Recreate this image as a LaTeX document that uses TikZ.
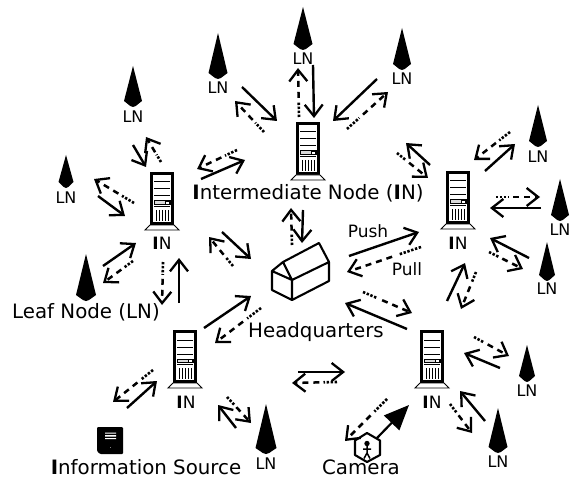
\documentclass[tikz,border=0pt]{standalone}
\usepackage{fontspec}
\setmainfont{DejaVu Sans}
\usetikzlibrary{arrows.meta,calc}
\newcommand{\fs}[1]{\fontsize{#1}{#1}\selectfont}
\newcommand{\barI}{\textbf{I}}
\tikzset{
  x=1pt,y=-1pt,
  opentip/.style={-{Straight Barb[length=11.5pt,width=18pt,line width=2.3pt]}},
  pushline/.style={line width=2.4pt,opentip},
  dotpart/.style={line width=2.6pt,dash pattern=on 2.4pt off 1.6pt},
  dashpart/.style={line width=2.5pt,dash pattern=on 6pt off 5pt,opentip},
  lab/.style={inner sep=0pt,font=\fs{19.8}},
  inlab/.style={inner sep=0pt,font=\fs{17}},
  lnlab/.style={inner sep=0pt,font=\fs{16}},
  server/.pic={
    \fill[black!55] (0,0) rectangle (24,53);
    \draw[line width=1.6pt,fill=white] (1,1) rectangle (23,52);
    \fill[black] (1,1) rectangle (23,3);
    \fill[black] (1,50) rectangle (23,52);
    \fill[black] (1,1) rectangle (3.4,52);
    \fill[black] (20.6,1) rectangle (23,52);
    \draw[line width=1pt] (4,10) -- (20,10) (4,17) -- (20,17) (4,24) -- (20,24);
    \draw[line width=1pt,fill=black!15] (4,29) rectangle (20,32.5);
    \fill (15,29) rectangle (20,33);
    \fill[white] (16,30) rectangle (18.5,31.8);
    \draw[line width=1pt] (4,34.5) -- (20,34.5);
    \draw[line width=.9pt] (6,38) -- (6,49) (9,38) -- (9,49) (12,38) -- (12,49) (15,38) -- (15,49) (18,38) -- (18,49);
    \draw[line width=.9pt,fill=white] (0,53) -- (24,53) -- (29,58) -- (-5,58) -- cycle;
  }
}
\newcommand{\tree}[6]{% name, tip x, tip y, half width, base y, unused
  \fill (#2,#3) -- (#2-#4,#5-6) -- (#2-0.3*#4,#5-1) -- (#2,#5) -- (#2+0.3*#4,#5-1) -- (#2+#4,#5-6) -- cycle;
  \coordinate (#1) at (#2,#5);
}
\newcommand{\solidarrow}[3]{%
  \coordinate (#1a) at (#2); \coordinate (#1b) at (#3);
  \draw[pushline] (#1a) -- (#1b);
}
\newcommand{\pullarrow}[3]{%
  \coordinate (#1a) at (#2); \coordinate (#1b) at (#3);
  \draw[dotpart] (#1a) -- ($(#1a)!.3!(#1b)$);
  \draw[dashpart] ($(#1a)!.39!(#1b)$) -- (#1b);
}
\begin{document}
\begin{tikzpicture}
\useasboundingbox (0,0) rectangle (570,481);
\fill[white] (0,0) rectangle (570,481);

% servers
\pic (s1) at (296,122) {server};
\pic (s2) at (150,172) {server};
\pic (s3) at (446,171) {server};
\pic (s4) at (173,330) {server};
\pic (s5) at (420,330) {server};

% leaf nodes
\tree{t1}{303}{7}{9.5}{50}{}
\tree{t2}{218}{33}{9.5}{79}{}
\tree{t3}{402}{28}{9}{70}{}
\tree{t4}{133}{66}{9}{107}{}
\tree{t5}{66}{155}{7.5}{188}{}
\tree{t6}{86}{254}{10}{301}{}
\tree{t7}{538}{105}{9}{147}{}
\tree{t8}{560}{179}{9}{221}{}
\tree{t9}{547}{242}{8}{281}{}
\tree{t10}{527}{345}{8}{382}{}
\tree{t11}{498}{408}{9.5}{453}{}
\tree{t12}{266}{404}{10.5}{454}{}

% labels
\node[lnlab] (l1) at (303,59) {LN};
\node[lnlab] (l2) at (218,88) {LN};
\node[lnlab] (l3) at (402,79) {LN};
\node[lnlab] (l4) at (133,117) {LN};
\node[lnlab] (l5) at (66,198) {LN};
\node[lnlab] (l7) at (538,157) {LN};
\node[lnlab] (l8) at (560,230) {LN};
\node[lnlab] (l9) at (547,289) {LN};
\node[lnlab] (l10) at (527,391) {LN};
\node[lnlab] (l11) at (498,462) {LN};
\node[lnlab] (l12) at (266,464) {LN};
\node[lab] (i1) at (308,193) {\barI ntermediate Node (\barI N)};
\node[inlab] (i2) at (162,243) {\barI N};
\node[inlab] (i3) at (458,243) {\barI N};
\node[inlab] (i4) at (186,402) {\barI N};
\node[inlab] (i5) at (432,402) {\barI N};
\node[lab] (leaf) at (86,312) {Leaf Node (LN)};
\node[lab] (hq) at (316,332) {Headquarters};
\node[lab] (info) at (146,467) {\barI nformation Source};
\node[lab] (cam) at (361,467) {Camera};
\node[inner sep=0pt,font=\fs{17}] (push) at (368,231) {Push};
\node[inner sep=0pt,font=\fs{17}] (pull) at (407,269) {Pull};

% house
\draw[line width=2.1pt,line join=round]
  (272,271) -- (292,280) -- (292,300) -- (272,290) -- cycle
  (272,271) -- (283,262) -- (292,280)
  (283,262) -- (319,243) -- (329,262) -- (292,280)
  (329,262) -- (329,281) -- (292,300);

% information source
\fill[rounded corners=1pt] (97,427) -- (123,427) -- (123,454) -- (100,454) -- (97,451) -- cycle;
\fill[white] (105,432.5) rectangle (116,433.5) (105,435) rectangle (116,436.5) (105,438) rectangle (116,439);
\fill[white!50!black] (110,447) rectangle (111,448);

% camera
\coordinate (hex) at (367,447.5);
\draw[line width=2.1pt,fill=white,line join=round] (367,433) -- (380,440.5) -- (380,455) -- (367,462) -- (355,455) -- (355,440.5) -- cycle;
\fill (367,443.5) circle (2.7);
\draw[line width=1.5pt] (367,445) -- (367,453) (363,449) -- (371,449) (367,453) -- (364,458.5) (367,453) -- (370,458.5);
\coordinate (cama) at (377,438); \coordinate (camb) at (409,405);
\draw[line width=2.2pt,-{Triangle[length=25pt,width=21pt]}] (cama) -- (camb);
\pullarrow{cd}{387,399}{345,441}

% arrows around top server
\solidarrow{a1}{313,65}{314,118}
\pullarrow{b1}{299,117}{298,68}
\solidarrow{a2}{242,87}{277,121}
\pullarrow{b2}{264,132}{235,101}
\solidarrow{a3}{377,79}{333,121}
\pullarrow{b3}{347,129}{388,92}
% left server
\solidarrow{a4}{133,145}{146,167}
\pullarrow{b4}{161,162}{146,137}
\pullarrow{b5}{134,203}{94,179}
\solidarrow{a5}{98,196}{125,216}
\solidarrow{a6}{103,266}{136,243}
\pullarrow{b6}{133,261}{103,283}
\pullarrow{b7}{163,262}{162,305}
\solidarrow{a7}{179,303}{179,258}
\solidarrow{a8}{201,179}{245,160}
\pullarrow{b8}{237,150}{197,169}
\solidarrow{a9}{222,232}{251,259}
\pullarrow{b9}{233,266}{209,237}
% bottom-left server
\solidarrow{a10}{204,328}{251,296}
\pullarrow{b10}{261,308}{215,343}
\pullarrow{b11}{153,370}{113,402}
\solidarrow{a11}{127,408}{157,381}
\pullarrow{b12}{227,397}{251,423}
\solidarrow{a12}{236,428}{218,405}
% headquarters
\solidarrow{a13}{349,256}{419,232}
\pullarrow{b13}{421,247}{347,272}
\pullarrow{b14}{363,292}{412,313}
\solidarrow{a14}{407,329}{345,303}
\solidarrow{a15}{303,210}{302,243}
\pullarrow{b15}{292,245}{291,208}
% right server
\pullarrow{b16}{510,132}{474,160}
\solidarrow{a16}{485,171}{515,144}
\pullarrow{b17}{496,197}{540,197}
\solidarrow{a17}{541,208}{490,208}
\solidarrow{a18}{529,258}{490,238}
\pullarrow{b18}{489,252}{523,269}
\solidarrow{a19}{447,301}{465,263}
\pullarrow{b19}{476,272}{461,309}
\solidarrow{a20}{430,165}{406,143}
\pullarrow{b20}{397,153}{428,178}
% bottom-right server
\pullarrow{b21}{474,337}{509,356}
\solidarrow{a21}{500,368}{464,353}
\pullarrow{b22}{450,404}{472,433}
\solidarrow{a22}{485,421}{460,391}
\solidarrow{a23}{298,372}{345,372}
\pullarrow{b23}{337,382}{292,383}
\end{tikzpicture}
\end{document}
